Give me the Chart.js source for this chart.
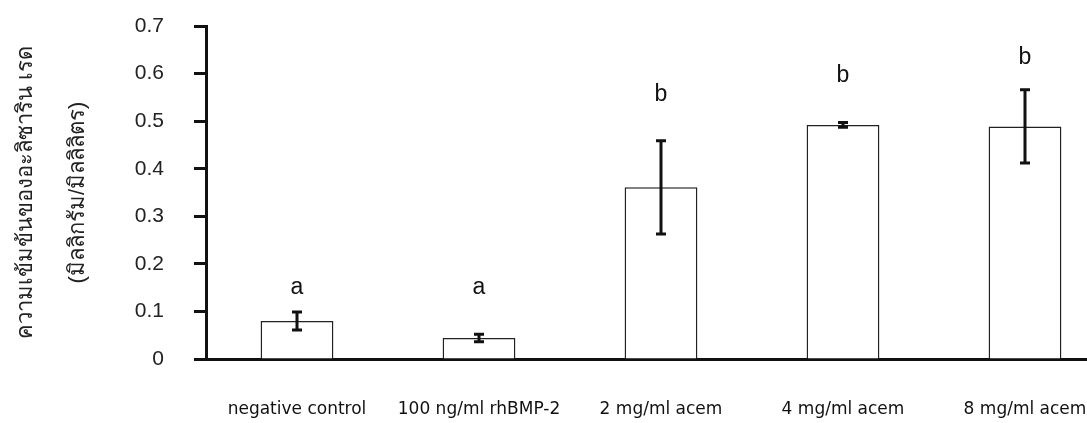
<!DOCTYPE html>
<html>
<head>
<meta charset="utf-8">
<script src="https://cdn.jsdelivr.net/npm/chart.js@4/dist/chart.umd.min.js"></script>
<style>
  body { margin: 0; overflow: hidden; background: #fff; }
  #wrap { width: 1116px; height: 423px; }
</style>
</head>
<body>
<div id="wrap"><canvas id="myChart"></canvas></div>
<script>
const categories = ['negative control', '100 ng/ml rhBMP-2', '2 mg/ml acem', '4 mg/ml acem', '8 mg/ml acem'];
const means = [0.080, 0.044, 0.361, 0.492, 0.489];
const errors = [0.019, 0.008, 0.098, 0.005, 0.077];
const letters = ['a', 'a', 'b', 'b', 'b'];
const letterAt = [0.151, 0.151, 0.555, 0.595, 0.634];
const yTicks = [0, 0.1, 0.2, 0.3, 0.4, 0.5, 0.6, 0.7];
const yTitle = ['ความเข้มข้นของอะลิซาริน เรด', '(มิลลิกรัม/มิลลิลิตร)'];

Chart.defaults.font.family = '"Liberation Sans", Arial, sans-serif';
Chart.defaults.color = '#111';

// error bars + significance letters
const extras = {
  id: 'extras',
  afterDatasetsDraw(chart) {
    const ctx = chart.ctx;
    const y = chart.scales.y;
    const bars = chart.getDatasetMeta(0).data;
    ctx.save();
    ctx.strokeStyle = '#111';
    ctx.lineWidth = 3;
    bars.forEach((bar, i) => {
      const top = y.getPixelForValue(means[i] + errors[i]);
      const bot = y.getPixelForValue(means[i] - errors[i]);
      ctx.beginPath();
      ctx.moveTo(bar.x, top); ctx.lineTo(bar.x, bot);
      ctx.moveTo(bar.x - 5, top); ctx.lineTo(bar.x + 5, top);
      ctx.moveTo(bar.x - 5, bot); ctx.lineTo(bar.x + 5, bot);
      ctx.stroke();
    });
    ctx.fillStyle = '#111';
    ctx.font = '23px "Liberation Sans", Arial, sans-serif';
    ctx.textAlign = 'center';
    ctx.textBaseline = 'middle';
    bars.forEach((bar, i) => {
      ctx.fillText(letters[i], bar.x, y.getPixelForValue(letterAt[i]));
    });
    ctx.restore();
  }
};

const data = {
  labels: categories,
  datasets: [{
    data: means,
    backgroundColor: '#fff',
    borderColor: '#222',
    borderWidth: 1.5,
    barPercentage: 0.4,
    categoryPercentage: 1
  }]
};

const config = {
  type: 'bar',
  data: data,
  options: {
    responsive: true,
    maintainAspectRatio: false,
    animation: false,
    layout: { padding: { top: 26, left: 0, right: 0, bottom: 0 } },
    plugins: { legend: { display: false }, tooltip: { enabled: false } },
    scales: {
      x: {
        grid: { display: false, drawTicks: false },
        border: { display: true, color: '#111', width: 3 },
        ticks: { padding: 40, font: { size: 17, family: '"DejaVu Sans", sans-serif' }, color: '#111', maxRotation: 0 },
        afterFit: (s) => { s.height = 64; s.paddingLeft = 0; s.paddingRight = 0; }
      },
      y: {
        min: 0,
        max: 0.7,
        afterBuildTicks: (s) => { s.ticks = yTicks.map(v => ({ value: v })); },
        grid: { drawOnChartArea: false, drawTicks: true, tickLength: 12, tickWidth: 3, tickColor: '#111' },
        border: { display: true, color: '#111', width: 3 },
        ticks: { padding: 30, font: { size: 21 }, color: '#222' },
        title: {
          display: true,
          text: yTitle,
          color: '#222',
          padding: 0,
          font: { size: 22, lineHeight: '52px', family: '"Liberation Sans", "Noto Sans", "DejaVu Sans", sans-serif' }
        },
        afterFit: (s) => { s.width = 206; s.paddingTop = 0; s.paddingBottom = 0; }
      }
    }
  },
  plugins: [extras]
};

const chart = new Chart(document.getElementById('myChart'), config);
</script>
</body>
</html>
